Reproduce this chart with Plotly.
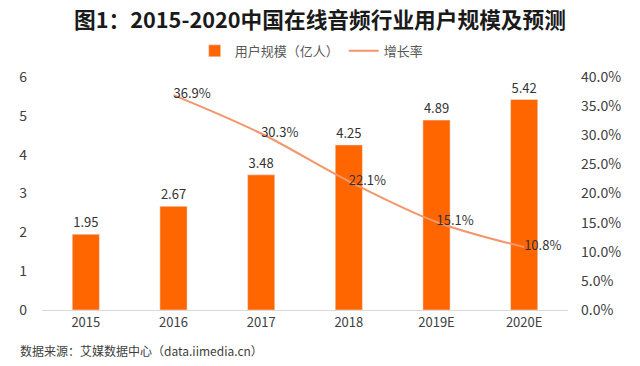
import plotly.graph_objects as go

categories = ["2015", "2016", "2017", "2018", "2019E", "2020E"]
users = [1.95, 2.67, 3.48, 4.25, 4.89, 5.42]
growth = [None, 36.9, 30.3, 22.1, 15.1, 10.8]
left_ticks = [0, 1, 2, 3, 4, 5, 6]
right_ticks = [0, 5, 10, 15, 20, 25, 30, 35, 40]

FONT = "Noto Sans CJK SC"
BAR_COLOR = "#FF6600"
LINE_COLOR = "#F4956A"

fig = go.Figure()
fig.add_trace(go.Bar(
    x=categories, y=users, name="用户规模（亿人）",
    marker=dict(color=BAR_COLOR), width=0.31,
    text=[f"{v:.2f}" for v in users], textposition="outside",
    textfont=dict(family=FONT, size=13, color="#333333"),
    cliponaxis=False,
))
fig.add_trace(go.Scatter(
    x=categories, y=growth, name="增长率", yaxis="y2",
    mode="lines+text", line=dict(color=LINE_COLOR, width=2, shape="spline"),
    text=[None if g is None else f"{g:.1f}%" for g in growth],
    textposition="middle right",
    textfont=dict(family=FONT, size=13, color="#333333"),
    cliponaxis=False, connectgaps=False,
))

fig.update_layout(
    width=640, height=366,
    margin=dict(l=42, r=72, t=77, b=56, autoexpand=False),
    paper_bgcolor="white", plot_bgcolor="white",
    font=dict(family=FONT, size=13, color="#404040"),
    title=dict(text="<b>图1：2015-2020中国在线音频行业用户规模及预测</b>",
               x=0.5285, xref="paper", xanchor="center", y=0.945, yanchor="middle",
               font=dict(family=FONT, size=21.7, color="#1a1a1a")),
    legend=dict(orientation="h", x=0.487, xanchor="center", xref="container",
                y=0.861, yanchor="middle", yref="container",
                font=dict(family=FONT, size=13, color="#595959"),
                itemwidth=30, traceorder="normal"),
    bargap=0.69,
    xaxis=dict(type="category", showgrid=False, showline=True, linecolor="#D9D9D9",
               linewidth=1, ticks="", automargin=False,
               tickfont=dict(family=FONT, size=13, color="#404040")),
    yaxis=dict(range=[0, 6], tickvals=left_ticks, showgrid=False, zeroline=False,
               showline=False, ticklabelstandoff=14, automargin=False,
               tickfont=dict(family=FONT, size=14, color="#404040")),
    yaxis2=dict(range=[0, 40], tickvals=right_ticks,
                ticktext=[f"{t:.1f}%" for t in right_ticks],
                overlaying="y", side="right", showgrid=False, zeroline=False,
                showline=False, ticklabelstandoff=12, automargin=False,
                tickfont=dict(family=FONT, size=14, color="#404040")),
    annotations=[dict(text="数据来源：艾媒数据中心（data.iimedia.cn）",
                      xref="paper", yref="paper", x=-0.045, y=-0.172,
                      xanchor="left", yanchor="middle", showarrow=False,
                      font=dict(family=FONT, size=12, color="#404040"))],
)

fig.write_html("out.html",
               config={"displayModeBar": False},
               post_script="document.body.style.margin='0';document.body.style.overflow='hidden';")
